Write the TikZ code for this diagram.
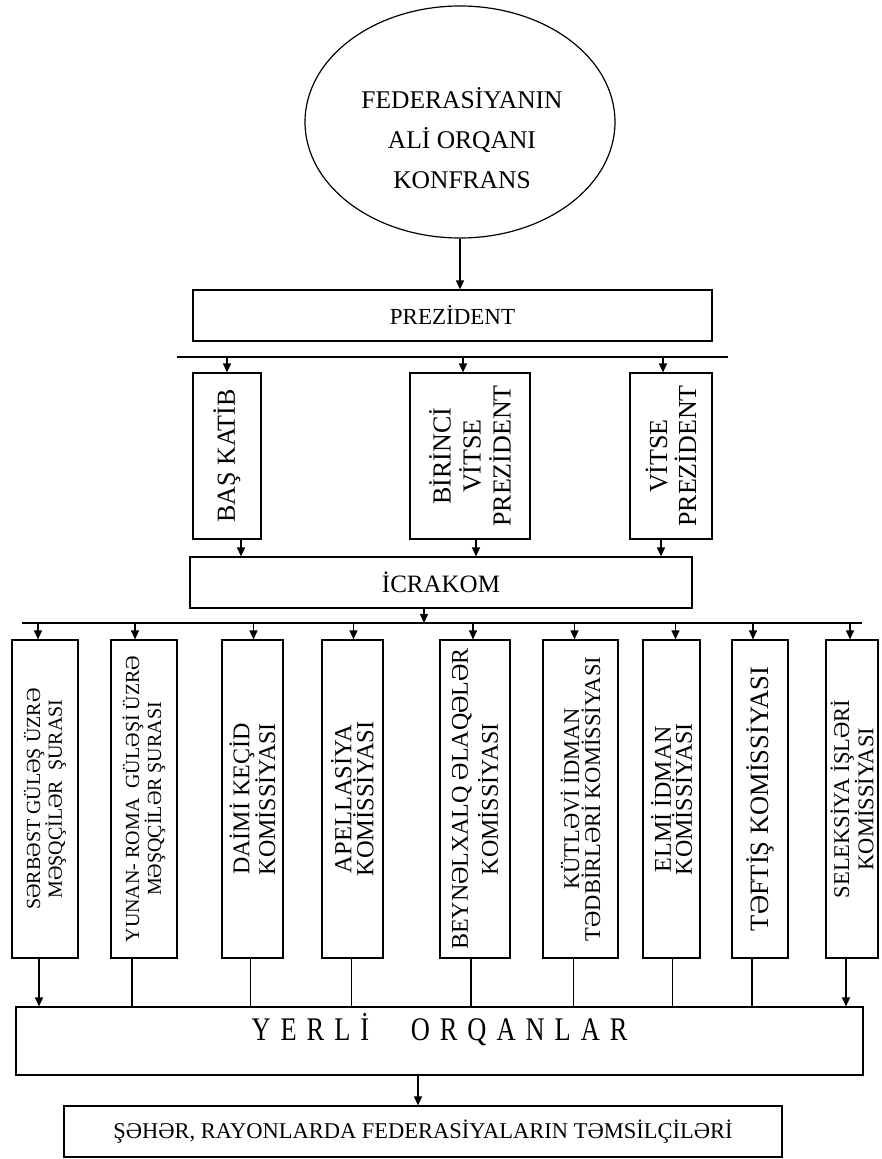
\documentclass[tikz,border=0pt]{standalone}
\usepackage{fontspec}
\setmainfont{Liberation Serif}
\usetikzlibrary{arrows.meta,shapes.geometric}

\newcommand\lgap{\kern 12.5pt}

\tikzset{
  frame/.style={draw=black, line width=1.2pt, inner sep=0pt, fill=white},
  vbox/.style={frame, rotate=90, align=center},
  link/.style={line width=1.3pt},
  arr/.style={link, -{Triangle[length=9pt,width=8pt]}},
}

\begin{document}
\begin{tikzpicture}[x=1pt,y=-1pt]
\useasboundingbox (0,0) rectangle (882,1159);
\fill[white] (0,0) rectangle (882,1159);

% conference (top ellipse)
\node[frame, ellipse, minimum width=310pt, minimum height=232pt] (conf) at (460,122) {};
\node[align=center, font=\fontsize{25.5}{40}\selectfont] (conftext) at (462,138)
  {FEDERASİYANIN\\ALİ ORQANI\\KONFRANS};

% president
\node[frame, minimum width=519pt, minimum height=51pt, font=\fontsize{23}{26}\selectfont]
  (prez) at (452.5,315.5) {PREZİDENT};
\draw[arr] (conf.south) -- (conf.south |- prez.north);

% first distribution line
\coordinate (bus1L) at (177,357);
\coordinate (bus1R) at (728,357);
\draw[link] (bus1L) -- (bus1R);

% secretary and vice presidents
\node[vbox, minimum width=166pt, minimum height=68pt, font=\fontsize{26}{30}\selectfont]
  (katib) at (227,456) {BAŞ KATİB};
\node[vbox, minimum width=166pt, minimum height=120pt, font=\fontsize{26}{30}\selectfont]
  (vp1) at (470,456) {BİRİNCİ\\VİTSE\\PREZİDENT};
\node[vbox, minimum width=166pt, minimum height=82pt, font=\fontsize{26}{29}\selectfont]
  (vp2) at (671,456) {VİTSE\\PREZİDENT};

\draw[arr] (katib.east |- bus1L) -- (katib.east);
\draw[arr] ([xshift=-7pt]vp1.east |- bus1L) -- ([xshift=-7pt]vp1.east);
\draw[arr] ([xshift=-8pt]vp2.east |- bus1L) -- ([xshift=-8pt]vp2.east);

% executive committee
\node[frame, minimum width=502pt, minimum height=51pt, font=\fontsize{25}{28}\selectfont]
  (icra) at (441,582.5) {İCRAKOM};
\draw[arr] ([xshift=14pt]katib.west) -- ([xshift=14pt]katib.west |- icra.north);
\draw[arr] ([xshift=6pt]vp1.west) -- ([xshift=6pt]vp1.west |- icra.north);
\draw[arr] ([xshift=-10pt]vp2.west) -- ([xshift=-10pt]vp2.west |- icra.north);

% second distribution line
\coordinate (bus2L) at (22,623);
\coordinate (bus2R) at (862,623);
\draw[link] (bus2L) -- (bus2R);
\draw[arr] ([xshift=-17pt]icra.south) -- ([xshift=-17pt]icra.south |- bus2L);

% councils and commissions
\node[vbox, minimum width=318pt, minimum height=66pt, font=\fontsize{20}{17}\selectfont]
  (c1) at (45,799) {SƏRBƏST GÜLƏŞ ÜZRƏ\\MƏŞQÇİLƏR\ \ ŞURASI};
\node[vbox, minimum width=318pt, minimum height=66pt, font=\fontsize{20}{17}\selectfont]
  (c2) at (144,799) {YUNAN- ROMA\ \ GÜLƏŞİ ÜZRƏ\\MƏŞQÇİLƏR ŞURASI};
\node[vbox, minimum width=318pt, minimum height=61pt, font=\fontsize{24}{24}\selectfont]
  (c3) at (252.5,799) {DAİMİ KEÇİD\\KOMİSSİYASI};
\node[vbox, minimum width=318pt, minimum height=61pt, font=\fontsize{24.5}{22}\selectfont]
  (c4) at (352.5,799) {APELLASİYA\\KOMİSSİYASI};
\node[vbox, minimum width=318pt, minimum height=70pt, font=\fontsize{24}{30}\selectfont]
  (c5) at (475,799) {BEYNƏLXALQ ƏLAQƏLƏR\\KOMİSSİYASI};
\node[vbox, minimum width=318pt, minimum height=75pt, font=\fontsize{22.5}{21}\selectfont]
  (c6) at (580.5,799) {KÜTLƏVİ İDMAN\\TƏDBİRLƏRİ KOMİSSİYASI};
\node[vbox, minimum width=318pt, minimum height=57pt, font=\fontsize{24}{21}\selectfont]
  (c7) at (671.5,799) {ELMİ İDMAN\\KOMİSSİYASI};
\node[vbox, minimum width=318pt, minimum height=56pt, font=\fontsize{26.5}{28}\selectfont]
  (c8) at (760,799) {TƏFTİŞ KOMİSSİYASI};
\node[vbox, minimum width=318pt, minimum height=52pt, font=\fontsize{22.5}{23}\selectfont]
  (c9) at (852,799) {SELEKSİYA İŞLƏRİ\\KOMİSSİYASI};

\draw[arr] ([xshift=-7pt]c1.east |- bus2L) -- ([xshift=-7pt]c1.east);
\draw[arr] ([xshift=-9pt]c2.east |- bus2L) -- ([xshift=-9pt]c2.east);
\draw[arr] ([xshift=1pt]c3.east |- bus2L) -- ([xshift=1pt]c3.east);
\draw[arr] ([xshift=1pt]c4.east |- bus2L) -- ([xshift=1pt]c4.east);
\draw[arr] ([xshift=-2pt]c5.east |- bus2L) -- ([xshift=-2pt]c5.east);
\draw[arr] ([xshift=-6pt]c6.east |- bus2L) -- ([xshift=-6pt]c6.east);
\draw[arr] ([xshift=4pt]c7.east |- bus2L) -- ([xshift=4pt]c7.east);
\draw[arr] ([xshift=-7pt]c8.east |- bus2L) -- ([xshift=-7pt]c8.east);
\draw[arr] ([xshift=-2pt]c9.east |- bus2L) -- ([xshift=-2pt]c9.east);

% local bodies
\node[frame, minimum width=847pt, minimum height=68pt, text height=22pt, text depth=24pt,
  font=\fontsize{33}{36}\selectfont] (yerli) at (439.5,1041)
  {\scalebox{0.8}[1]{Y\lgap E\lgap R\lgap L\lgap İ\kern 52pt O\lgap R\lgap Q\lgap A\lgap N\lgap L\lgap A\lgap R}};

\draw[arr] ([xshift=-6pt]c1.west) -- ([xshift=-6pt]c1.west |- yerli.north);
\draw[link] ([xshift=-12pt]c2.west) -- ([xshift=-12pt]c2.west |- yerli.north);
\draw[link] ([xshift=-2pt]c3.west) -- ([xshift=-2pt]c3.west |- yerli.north);
\draw[link] ([xshift=-1pt]c4.west) -- ([xshift=-1pt]c4.west |- yerli.north);
\draw[link] ([xshift=-4pt]c5.west) -- ([xshift=-4pt]c5.west |- yerli.north);
\draw[link] ([xshift=-7pt]c6.west) -- ([xshift=-7pt]c6.west |- yerli.north);
\draw[link] ([xshift=1pt]c7.west) -- ([xshift=1pt]c7.west |- yerli.north);
\draw[link] ([xshift=-8pt]c8.west) -- ([xshift=-8pt]c8.west |- yerli.north);
\draw[arr] ([xshift=-6pt]c9.west) -- ([xshift=-6pt]c9.west |- yerli.north);

% city and district representatives
\node[frame, minimum width=718pt, minimum height=51pt, font=\fontsize{22.5}{26}\selectfont]
  (rep) at (423,1131.5) {ŞƏHƏR, RAYONLARDA FEDERASİYALARIN TƏMSİLÇİLƏRİ};
\draw[arr] ([xshift=-21.5pt]yerli.south) -- ([xshift=-21.5pt]yerli.south |- rep.north);
\end{tikzpicture}
\end{document}
